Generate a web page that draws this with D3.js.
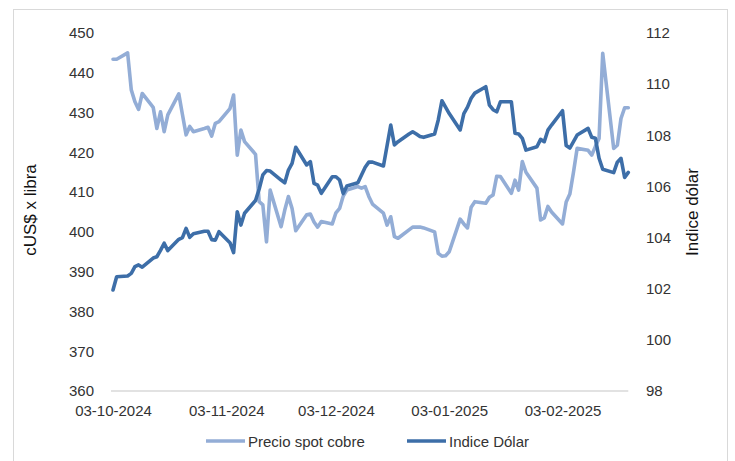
<!DOCTYPE html>
<html>
<head>
<meta charset="utf-8">
<script src="https://cdn.jsdelivr.net/npm/d3@7"></script>
<style>
  html, body { margin: 0; padding: 0; background: #ffffff; }
  svg { display: block; font-family: "Liberation Sans", Arial, sans-serif; }
</style>
</head>
<body>
<svg id="chart" width="735" height="461"></svg>
<script>
// ---- data ----
const dates = [
  "2024-10-03","2024-10-04","2024-10-07","2024-10-08","2024-10-09","2024-10-10","2024-10-11",
  "2024-10-14","2024-10-15","2024-10-16","2024-10-17","2024-10-18","2024-10-21","2024-10-22",
  "2024-10-23","2024-10-24","2024-10-25","2024-10-28","2024-10-29","2024-10-30","2024-10-31",
  "2024-11-01","2024-11-04","2024-11-05","2024-11-06","2024-11-07","2024-11-08","2024-11-11",
  "2024-11-12","2024-11-13","2024-11-14","2024-11-15","2024-11-18","2024-11-19","2024-11-20",
  "2024-11-21","2024-11-22","2024-11-25","2024-11-26","2024-11-27","2024-11-28","2024-11-29",
  "2024-12-02","2024-12-03","2024-12-04","2024-12-05","2024-12-06","2024-12-09","2024-12-10",
  "2024-12-11","2024-12-12","2024-12-13","2024-12-16","2024-12-17","2024-12-18","2024-12-19",
  "2024-12-20","2024-12-23","2024-12-24","2024-12-25","2024-12-26","2024-12-27","2024-12-30",
  "2024-12-31",
  "2025-01-01","2025-01-02","2025-01-03","2025-01-06","2025-01-07","2025-01-08","2025-01-09",
  "2025-01-10","2025-01-13","2025-01-14","2025-01-15","2025-01-16","2025-01-17","2025-01-20",
  "2025-01-21","2025-01-22","2025-01-23","2025-01-24","2025-01-27","2025-01-28","2025-01-29",
  "2025-01-30","2025-01-31",
  "2025-02-03","2025-02-04","2025-02-05","2025-02-06","2025-02-07","2025-02-10","2025-02-11",
  "2025-02-12","2025-02-13","2025-02-14","2025-02-17","2025-02-18","2025-02-19","2025-02-20",
  "2025-02-21"
];

const cobre = [
  443.4, 443.4, 445.0, 435.7, 432.7, 430.8, 434.8, 431.3, 426.0, 430.2, 425.2, 429.4, 434.7, 429.5,
  424.4, 426.5, 425.2, 426.0, 426.3, 424.1, 427.3,
  427.7, 431.0, 434.4, 419.3, 425.6, 422.7, 419.5, 407.6, 406.8, 397.5, 410.5, 401.3, 405.5, 408.9,
  405.9, 400.3, 404.3, 404.5, 402.5, 401.2, 402.6,
  402.0, 404.8, 405.9, 409.0, 410.5, 411.4, 411.0, 411.4, 408.9, 407.0, 404.7, 401.7, 403.8, 398.8,
  398.4, 400.5, 401.2, 401.2, 401.2, 401.0, 400.0, 394.6,
  393.9, 394.0, 395.0, 403.2, 402.0, 401.0, 406.2, 407.6, 407.2, 408.7, 409.3, 414.0, 413.9, 409.7,
  413.0, 410.5, 417.7, 415.0, 411.0, 403.0, 403.5, 406.4, 405.0,
  402.0, 407.5, 409.5, 415.0, 421.0, 420.5, 419.3, 421.5, 423.5, 444.9, 421.0, 421.8, 428.5, 431.2,
  431.2
];

const dolar = [
  101.95, 102.47, 102.50, 102.60, 102.86, 102.93, 102.84, 103.20, 103.25, 103.50, 103.78, 103.49, 103.93, 104.00,
  104.36, 104.01, 104.15, 104.25, 104.25, 103.92, 103.90,
  104.23, 103.80, 103.41, 105.01, 104.49, 104.95, 105.45, 105.90, 106.45, 106.62, 106.60, 106.25, 106.14, 106.64,
  106.90, 107.53, 106.84, 106.97, 106.12, 106.05, 105.73,
  106.38, 106.38, 106.25, 105.72, 106.02, 106.14, 106.45, 106.75, 106.95, 106.95, 106.80, 107.60, 108.40, 107.62,
  107.75, 108.05, 108.14, 108.05, 107.95, 107.92, 108.05, 108.60,
  109.35, 109.10, 108.85, 108.21, 108.85, 109.10, 109.45, 109.65, 109.90, 109.18, 109.00, 108.92, 109.31, 109.31,
  108.08, 108.05, 107.88, 107.42, 107.55, 107.84, 107.75, 108.20, 108.40,
  108.96, 107.60, 107.50, 107.75, 108.01, 108.27, 107.92, 107.88, 107.10, 106.67, 106.54, 106.95, 107.10, 106.35,
  106.55
];

const xTickLabels = ["03-10-2024", "03-11-2024", "03-12-2024", "03-01-2025", "03-02-2025"];
const leftTicks = [360, 370, 380, 390, 400, 410, 420, 430, 440, 450];
const rightTicks = [98, 100, 102, 104, 106, 108, 110, 112];
const seriesNames = ["Precio spot cobre", "Indice Dólar"];
const axisTitles = ["cUS$ x libra", "Indice dólar"];

// ---- drawing ----
const colLight = "#93ADD6";
const colDark = "#3D6EA8";
const textCol = "#333333";

const parseISO = d3.timeParse("%Y-%m-%d");
const parseTick = d3.timeParse("%d-%m-%Y");
const fmtTick = d3.timeFormat("%d-%m-%Y");
const dt = dates.map(parseISO);

const svg = d3.select("#chart");

// outer frame
svg.append("rect")
  .attr("x", 13.5).attr("y", 9.5).attr("width", 714).attr("height", 470)
  .attr("fill", "none").attr("stroke", "#d9d9d9").attr("stroke-width", 1);

const x = d3.scaleTime().domain(d3.extent(dt)).range([113, 628.3]);
const yL = d3.scaleLinear().domain([360, 450]).range([391, 33]);
const yR = d3.scaleLinear().domain([98, 112]).range([391, 33]);

// baseline
svg.append("line")
  .attr("x1", 111).attr("x2", 628.3).attr("y1", yL(360)).attr("y2", yL(360))
  .attr("stroke", "#d9d9d9").attr("stroke-width", 1.5);

// left axis
const gL = svg.append("g").attr("transform", "translate(94,0)")
  .call(d3.axisLeft(yL).tickValues(leftTicks).tickSize(0).tickPadding(0));
gL.select(".domain").remove();
gL.selectAll("text").attr("font-size", 15).attr("fill", textCol)
  .attr("font-family", "Liberation Sans, Arial, sans-serif");

// right axis
const gR = svg.append("g").attr("transform", "translate(646,0)")
  .call(d3.axisRight(yR).tickValues(rightTicks).tickSize(0).tickPadding(0));
gR.select(".domain").remove();
gR.selectAll("text").attr("font-size", 15).attr("fill", textCol)
  .attr("font-family", "Liberation Sans, Arial, sans-serif");

// bottom axis
const gB = svg.append("g").attr("transform", "translate(0,399)")
  .call(d3.axisBottom(x).tickValues(xTickLabels.map(parseTick))
    .tickFormat(fmtTick).tickSize(0).tickPadding(6));
gB.select(".domain").remove();
gB.selectAll("text").attr("font-size", 15).attr("fill", textCol)
  .attr("font-family", "Liberation Sans, Arial, sans-serif");

// axis titles
svg.append("text")
  .attr("transform", "translate(36,210) rotate(-90)")
  .attr("text-anchor", "middle")
  .attr("font-size", 17).attr("fill", "#111")
  .text(axisTitles[0]);
svg.append("text")
  .attr("transform", "translate(698,212) rotate(-90)")
  .attr("text-anchor", "middle")
  .attr("font-size", 17).attr("fill", "#111")
  .text(axisTitles[1]);

// lines
const lineL = d3.line().x((d, i) => x(dt[i])).y(d => yL(d));
const lineR = d3.line().x((d, i) => x(dt[i])).y(d => yR(d));

svg.append("path").datum(cobre)
  .attr("d", lineL).attr("fill", "none").attr("stroke", colLight)
  .attr("stroke-width", 3.6).attr("stroke-linejoin", "round").attr("stroke-linecap", "round");

svg.append("path").datum(dolar)
  .attr("d", lineR).attr("fill", "none").attr("stroke", colDark)
  .attr("stroke-width", 3.6).attr("stroke-linejoin", "round").attr("stroke-linecap", "round");

// legend
const legend = [
  { name: seriesNames[0], color: colLight, x: 206 },
  { name: seriesNames[1], color: colDark, x: 407 }
];
const lg = svg.append("g");
legend.forEach(l => {
  lg.append("line").attr("x1", l.x).attr("x2", l.x + 39).attr("y1", 441).attr("y2", 441)
    .attr("stroke", l.color).attr("stroke-width", 3.6);
  lg.append("text").attr("x", l.x + 42).attr("y", 446.5)
    .attr("font-size", 15).attr("fill", textCol).text(l.name);
});
</script>
</body>
</html>
